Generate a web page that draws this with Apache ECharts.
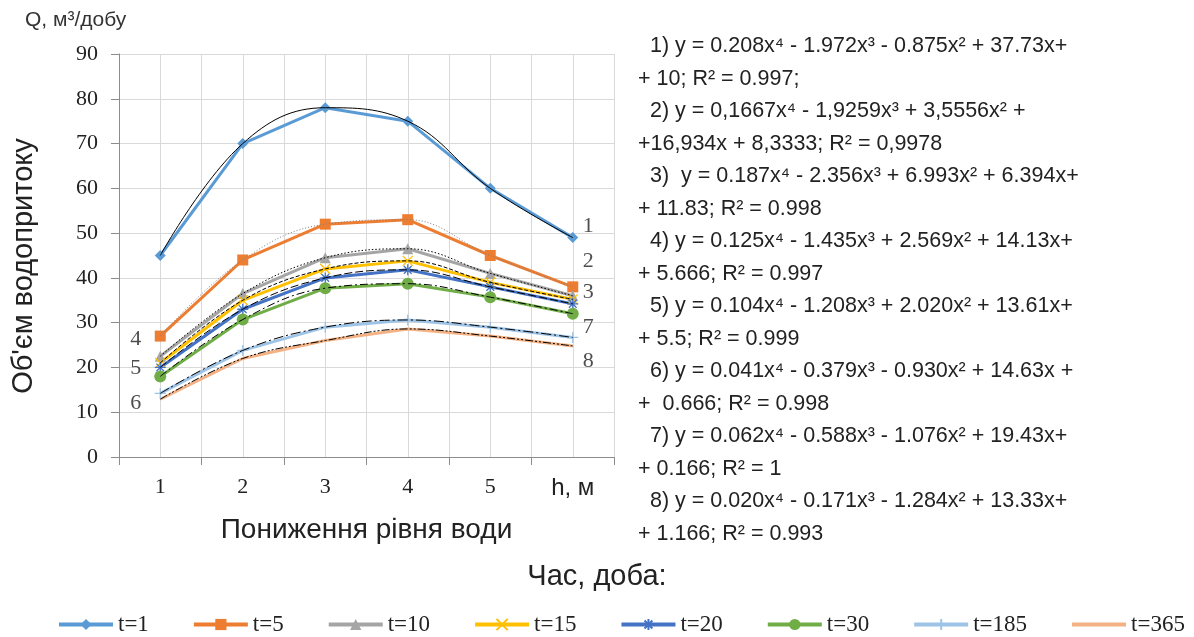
<!DOCTYPE html>
<html>
<head>
<meta charset="utf-8">
<script src="https://cdn.jsdelivr.net/npm/echarts@6/dist/echarts.min.js"></script>
<style>
  html, body { margin: 0; padding: 0; background: #fff; }
  #chart { width: 1194px; height: 637px; }
</style>
</head>
<body>
<div id="chart"></div>
<script>
// дані
const categories = ['1', '2', '3', '4', '5', 'h, м'];
const yTicks = { min: 0, max: 90, step: 10 };

const names = ['t=1', 't=5', 't=10', 't=15', 't=20', 't=30', 't=185', 't=365'];
const t1   = [45, 70, 78, 75, 60, 49];
const t5   = [27, 44, 52, 53, 45, 38];
const t10  = [22.5, 36.5, 44.5, 46.5, 41, 36];
const t15  = [21, 35, 42, 43.8, 39, 35.2];
const t20  = [20, 33, 40, 41.8, 38, 34.2];
const t30  = [18, 30.7, 37.7, 38.7, 35.7, 32];
const t185 = [14.2, 23.8, 29, 30.6, 29, 26.7];
const t365 = [12.9, 22, 26, 28.6, 27, 24.8];
const values = [t1, t5, t10, t15, t20, t30, t185, t365];

// номери кривих біля ліній
const labelsRight = [['1', 51.5], ['2', 43.8], ['3', 36.8], ['7', 29], ['8', 21.3]];
const labelsLeft = [['4', 26.4], ['5', 19.8], ['6', 12]];

const equations = [
  '  1) y = 0.208x⁴ - 1.972x³ - 0.875x² + 37.73x+',
  '+ 10; R² = 0.997;',
  '  2) y = 0,1667x⁴ - 1,9259x³ + 3,5556x² +',
  '+16,934x + 8,3333; R² = 0,9978',
  '  3)  y = 0.187x⁴ - 2.356x³ + 6.993x² + 6.394x+',
  '+ 11.83; R² = 0.998',
  '  4) y = 0.125x⁴ - 1.435x³ + 2.569x² + 14.13x+',
  '+ 5.666; R² = 0.997',
  '  5) y = 0.104x⁴ - 1.208x³ + 2.020x² + 13.61x+',
  '+ 5.5; R² = 0.999',
  '  6) y = 0.041x⁴ - 0.379x³ - 0.930x² + 14.63x +',
  '+  0.666; R² = 0.998',
  '  7) y = 0.062x⁴ - 0.588x³ - 1.076x² + 19.43x+',
  '+ 0.166; R² = 1',
  '  8) y = 0.020x⁴ - 0.171x³ - 1.284x² + 13.33x+',
  '+ 1.166; R² = 0.993'
];

// стилі
const colors = ['#5b9bd5', '#ed7d31', '#a5a5a5', '#ffc000', '#4472c4', '#70ad47', '#9dc3e6', '#f4b183'];
const symbols = [
  'diamond', 'rect', 'triangle',
  'path://M0,0L10,10M10,0L0,10',
  'path://M5,0L5,10M0,5L10,5M1.5,1.5L8.5,8.5M8.5,1.5L1.5,8.5',
  'circle',
  'path://M5,0L5,10M0,5L10,5',
  'none'
];
const symbolSizes = [11, 11, 11, 10, 11, 12, 11, 0];
const strokeSymbols = [false, false, false, true, true, false, true, false];
const trendStyles = [
  { color: '#000', type: 'solid' },
  { color: '#7f7f7f', type: [1, 2] },
  { color: '#000', type: [1.5, 2] },
  { color: '#000', type: [4, 2] },
  { color: '#000', type: [8, 3] },
  { color: '#000', type: [8, 3, 2, 3] },
  { color: '#000', type: [10, 3, 2, 3] },
  { color: '#000', type: [8, 2, 2, 2, 2, 2] }
];

const serif = 'Liberation Serif, Times New Roman, serif';
const sans = 'Liberation Sans, Arial, sans-serif';

const chart = echarts.init(document.getElementById('chart'));

const series = [];
values.forEach((v, i) => {
  series.push({
    name: names[i],
    type: 'line',
    data: v,
    symbol: symbols[i],
    symbolSize: symbolSizes[i],
    lineStyle: { color: colors[i], width: 3 },
    itemStyle: strokeSymbols[i]
      ? { color: colors[i], borderColor: colors[i], borderWidth: 1.3 }
      : { color: colors[i] },
    z: 2
  });
});
values.forEach((v, i) => {
  series.push({
    name: 'trend' + (i + 1),
    type: 'line',
    data: v,
    smooth: 0.4,
    symbol: 'none',
    silent: true,
    lineStyle: { color: trendStyles[i].color, type: trendStyles[i].type, width: 1 },
    z: 4
  });
});
series.push({
  type: 'scatter',
  symbolSize: 0,
  silent: true,
  data: labelsRight.map(d => ({ value: [categories.length - 1, d[1]], name: d[0] })),
  label: { show: true, position: 'right', distance: 10, formatter: '{b}', fontFamily: serif, fontSize: 22, color: '#222' },
  z: 5
});
series.push({
  type: 'scatter',
  symbolSize: 0,
  silent: true,
  data: labelsLeft.map(d => ({ value: [0, d[1]], name: d[0] })),
  label: { show: true, position: 'left', distance: 19, formatter: '{b}', fontFamily: serif, fontSize: 22, color: '#222' },
  z: 5
});

chart.setOption({
  animation: false,
  backgroundColor: '#fff',
  title: [
    { text: 'Q, м³/добу', left: 20, top: 5, textStyle: { fontFamily: sans, fontSize: 21, fontWeight: 'normal', color: '#333' } },
    { text: 'Час, доба:', left: 'center', top: 557, textStyle: { fontFamily: sans, fontSize: 29, fontWeight: 'normal', color: '#222' } }
  ],
  legend: {
    data: names.map((n, i) => (i === names.length - 1 ? { name: n, itemStyle: { opacity: 0 } } : n)),
    left: 52,
    top: 608,
    itemWidth: 54,
    itemHeight: 14,
    itemGap: 43,
    lineStyle: { width: 4 },
    textStyle: { fontFamily: serif, fontSize: 23, color: '#222' }
  },
  grid: { left: 119, right: 580, top: 54, bottom: 180 },
  xAxis: [
    {
      type: 'category',
      data: categories,
      boundaryGap: true,
      name: 'Пониження рівня води',
      nameLocation: 'middle',
      nameGap: 59,
      nameTextStyle: { fontFamily: sans, fontSize: 28, color: '#222' },
      axisLine: { lineStyle: { color: '#8c8c8c', width: 1 } },
      axisTick: { show: true, length: 8, lineStyle: { color: '#8c8c8c' } },
      splitLine: { show: false },
      axisLabel: {
        interval: 0,
        margin: 19,
        fontFamily: serif,
        fontSize: 22,
        color: '#222',
        formatter: v => (v === 'h, м' ? '{s|' + v + '}' : v),
        rich: { s: { fontFamily: sans, fontSize: 24, color: '#222' } }
      }
    },
    {
      type: 'value',
      min: 0,
      max: 12,
      interval: 1,
      show: true,
      axisLine: { show: false },
      axisTick: { show: false },
      axisLabel: { show: false },
      splitLine: { show: true, lineStyle: { color: '#d9d9d9', width: 1 } }
    }
  ],
  yAxis: {
    type: 'value',
    min: yTicks.min,
    max: yTicks.max,
    interval: yTicks.step,
    axisLine: { show: true, lineStyle: { color: '#8c8c8c', width: 1 } },
    axisTick: { show: true, length: 8, lineStyle: { color: '#8c8c8c' } },
    axisLabel: { margin: 21, fontFamily: serif, fontSize: 22, color: '#222' },
    splitLine: { show: true, lineStyle: { color: '#d9d9d9', width: 1 } }
  },
  graphic: [
    {
      type: 'text',
      x: 24,
      y: 266,
      rotation: Math.PI / 2,
      style: {
        text: "Об'єм водопритоку",
        fontFamily: sans,
        fontSize: 29,
        fill: '#222',
        align: 'center',
        verticalAlign: 'middle'
      }
    },
    {
      type: 'text',
      left: 638,
      top: 30,
      style: {
        text: equations.join('\n'),
        fontFamily: sans,
        fontSize: 21.5,
        lineHeight: 32.5,
        fill: '#222'
      }
    }
  ],
  series: series
});
</script>
</body>
</html>
